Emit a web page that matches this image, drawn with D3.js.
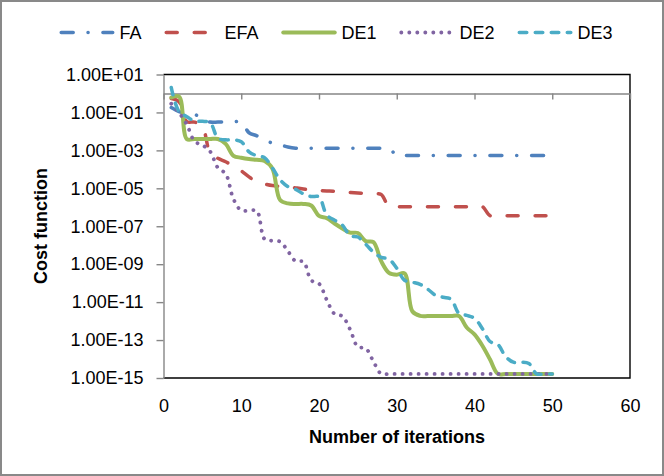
<!DOCTYPE html>
<html><head><meta charset="utf-8">
<script src="https://cdn.jsdelivr.net/npm/d3@7"></script>
<style>
body{margin:0;background:#fff}
svg{display:block}
text{font-family:"Liberation Sans",Arial,sans-serif}
</style>
</head><body>
<svg id="c" width="664" height="476"></svg>
<script>
const iterations = [1,2,3,4,5,6,7,8,9,10,11,12,13,14,15,16,17,18,19,20,21,22,23,24,25,26,27,28,29,30,31,32,33,34,35,36,37,38,39,40,41,42,43,44,45,46,47,48,49,50];

const FA = [0.18,0.11,0.086,0.081,0.042,0.031,0.031,0.031,0.032,0.032,
  0.0085,0.0059,0.0036,0.0024,0.0020,0.0015,0.0013,0.0013,0.0013,0.0013,
  0.0013,0.0013,0.0013,0.0013,0.0013,0.0013,0.0013,0.0013,0.0013,0.00054,
  0.00054,0.00054,0.00054,0.00054,0.00054,0.00054,0.00054,0.00054,0.00054,0.00054,
  0.00054,0.00054,0.00054,0.00054,0.00054,0.00054,0.00054,0.00054,0.00054,0.00054];

const EFA = [0.54,0.37,0.033,0.031,0.018,7.5e-4,3.8e-4,2.5e-4,1.5e-4,8.3e-5,
  4.0e-5,2.2e-5,1.7e-5,1.4e-5,1.26e-5,1.19e-5,1.05e-5,9.3e-6,8.2e-6,7.7e-6,
  7.3e-6,7.0e-6,6.6e-6,6.1e-6,5.7e-6,5.4e-6,5.1e-6,4.75e-6,1.1e-6,1.08e-6,
  1.08e-6,1.08e-6,1.08e-6,1.08e-6,1.08e-6,1.08e-6,1.08e-6,1.08e-6,1.08e-6,1.08e-6,
  1.08e-6,3.6e-7,3.6e-7,3.6e-7,3.6e-7,3.6e-7,3.6e-7,3.6e-7,3.6e-7,3.6e-7];

const DE1 = [0.61,0.69,3.9e-3,4.0e-3,4.0e-3,4.0e-3,4.0e-3,2.2e-3,5.2e-4,4.1e-4,
  3.5e-4,3.2e-4,2.8e-4,1.1e-4,2.4e-6,1.6e-6,1.5e-6,1.5e-6,1.24e-6,3.5e-7,
  2.7e-7,1.4e-7,7.7e-8,4.6e-8,4.4e-8,1.65e-8,1.46e-8,1.44e-9,3.5e-10,2.8e-10,
  3.3e-10,3.3e-12,1.9e-12,1.84e-12,1.84e-12,1.84e-12,1.84e-12,1.84e-12,4.6e-13,2.0e-13,
  5.2e-14,9.4e-15,1.65e-15,1.65e-15,1.65e-15,1.65e-15,1.65e-15,1.65e-15,1.65e-15,1.65e-15];

const DE2 = [0.29,0.098,0.023,3.0e-3,1.9e-3,8.7e-4,1.2e-4,5.8e-5,2.7e-6,6.8e-7,
  6.7e-7,6.4e-7,2.1e-8,1.7e-8,1.55e-8,4.9e-9,1.44e-9,1.36e-9,1.4e-10,9.5e-11,
  1.3e-11,2.4e-12,1.8e-12,3.6e-13,4.3e-14,3.7e-14,7.4e-15,1.65e-15,1.65e-15,1.65e-15,
  1.65e-15,1.65e-15,1.65e-15,1.65e-15,1.65e-15,1.65e-15,1.65e-15,1.65e-15,1.65e-15,1.65e-15,
  1.65e-15,1.65e-15,1.65e-15,1.65e-15,1.65e-15,1.65e-15,1.65e-15,1.65e-15,1.65e-15,1.65e-15];

const DE3 = [2.05,0.11,0.060,0.035,0.034,0.029,4.4e-3,3.6e-3,3.6e-3,2.85e-3,
  8.4e-4,5.2e-4,4.1e-4,1.2e-4,2.8e-5,1.23e-5,8.7e-6,5.1e-6,3.7e-6,3.5e-6,
  3.9e-7,2.1e-7,1.16e-7,3.2e-8,2.7e-8,1.14e-8,4.3e-9,2.3e-9,1.84e-9,6.1e-10,
  1.42e-10,1.12e-10,8.7e-11,4.75e-11,2.3e-11,1.8e-11,1.4e-11,2.55e-12,2.0e-12,1.4e-12,
  4.1e-13,8.4e-14,5.85e-14,1.35e-14,6.8e-15,6.8e-15,5.8e-15,1.65e-15,1.65e-15,1.65e-15];

const seriesNames = ["FA","EFA","DE1","DE2","DE3"];
const seriesValues = [FA, EFA, DE1, DE2, DE3];
const seriesColors = ["#4F81BD","#C0504D","#9BBB59","#8064A2","#4BACC6"];
const seriesDash = ["12,14.8,0.1,14.8","11,17",null,"0.1,7.9","7.5,8.5"];
const seriesWidth = [3.5,3.5,4,3.8,3.5];

const xTicks = [0,10,20,30,40,50,60];
const yTicks = [1e1,1e-1,1e-3,1e-5,1e-7,1e-9,1e-11,1e-13,1e-15];
const xTitle = "Number of iterations";
const yTitle = "Cost function";

const svg = d3.select("#c");
svg.append("rect").attr("x",1).attr("y",1).attr("width",662).attr("height",474)
  .attr("fill","#fff").attr("stroke","#898989").attr("stroke-width",2);

const x = d3.scaleLinear().domain([0,60]).range([163.5,630]);
const y = d3.scaleLog().domain([1e-15,1e1]).range([378,74.5]);

function fmt(v){
  return v.toExponential(2).toUpperCase().replace(/E([+-])(\d)$/, "E$10$2");
}

// plot area border (top, right, bottom)
svg.append("path")
  .attr("d", `M${x(0)},${y(1e1)}H${x(60)}V${y(1e-15)}H${x(0)}`)
  .attr("fill","none").attr("stroke","#000").attr("stroke-width",1.4);

// y axis
const gy = svg.append("g").attr("transform",`translate(${x(0)},0)`)
  .call(d3.axisLeft(y).tickValues(yTicks).tickFormat(fmt).tickSize(7).tickPadding(13).tickSizeOuter(0));
gy.select(".domain").attr("stroke","#868686").attr("stroke-width",1.4);
gy.selectAll(".tick line").attr("stroke","#868686").attr("stroke-width",1.4);
gy.selectAll(".tick text").attr("font-size",18).attr("fill","#000")
  .style("font-family",'"Liberation Sans",Arial,sans-serif');

// x axis crossing at 1
const gx = svg.append("g").attr("transform",`translate(0,${y(1)})`)
  .call(d3.axisBottom(x).tickValues(xTicks).tickSize(6).tickSizeOuter(0).tickFormat(""));
gx.select(".domain").attr("stroke","#868686").attr("stroke-width",1.4);
gx.selectAll(".tick line").attr("stroke","#868686").attr("stroke-width",1.4);

// x labels at bottom
const gxl = svg.append("g").attr("transform",`translate(0,${y(1e-15)})`)
  .call(d3.axisBottom(x).tickValues(xTicks).tickSize(0).tickPadding(21));
gxl.select(".domain").remove();
gxl.selectAll(".tick text").attr("font-size",18).attr("fill","#000")
  .style("font-family",'"Liberation Sans",Arial,sans-serif');

// series
const line = d3.line()
  .x((d,i)=>x(iterations[i]))
  .y(d=>y(d))
  .curve(d3.curveCatmullRom.alpha(0.5));

seriesValues.forEach((vals,k)=>{
  const p = svg.append("path").datum(vals)
    .attr("d", line)
    .attr("fill","none")
    .attr("stroke", seriesColors[k])
    .attr("stroke-width", seriesWidth[k])
    .attr("stroke-linecap","round")
    .attr("stroke-linejoin","round");
  if (seriesDash[k]) p.attr("stroke-dasharray", seriesDash[k]);
});

// axis titles
svg.append("text").attr("x",397).attr("y",443).attr("text-anchor","middle")
  .attr("font-size",18).attr("font-weight","bold").text(xTitle);
svg.append("text").attr("transform","translate(47,226) rotate(-90)").attr("text-anchor","middle")
  .attr("font-size",18).attr("font-weight","bold").text(yTitle);

// legend
const lg = svg.append("g");
const sampleLen = 55, textGap = 60, itemGap = 23, legY = 32.5;
let cx = 0;
const items = [];
seriesNames.forEach((name,k)=>{
  const g = lg.append("g").attr("transform",`translate(${cx},0)`);
  const lp = g.append("line").attr("x1",1.75).attr("x2",sampleLen-1.75).attr("y1",legY).attr("y2",legY)
    .attr("stroke",seriesColors[k]).attr("stroke-width",seriesWidth[k]).attr("stroke-linecap","round");
  if (seriesDash[k]) lp.attr("stroke-dasharray", seriesDash[k]);
  const t = g.append("text").attr("x",textGap).attr("y",legY+6.4).attr("font-size",18).text(name);
  const w = t.node().getComputedTextLength();
  cx += textGap + w + itemGap;
});
const totalW = cx - itemGap;
lg.attr("transform",`translate(${336 - totalW/2},0)`);
</script>
</body></html>
